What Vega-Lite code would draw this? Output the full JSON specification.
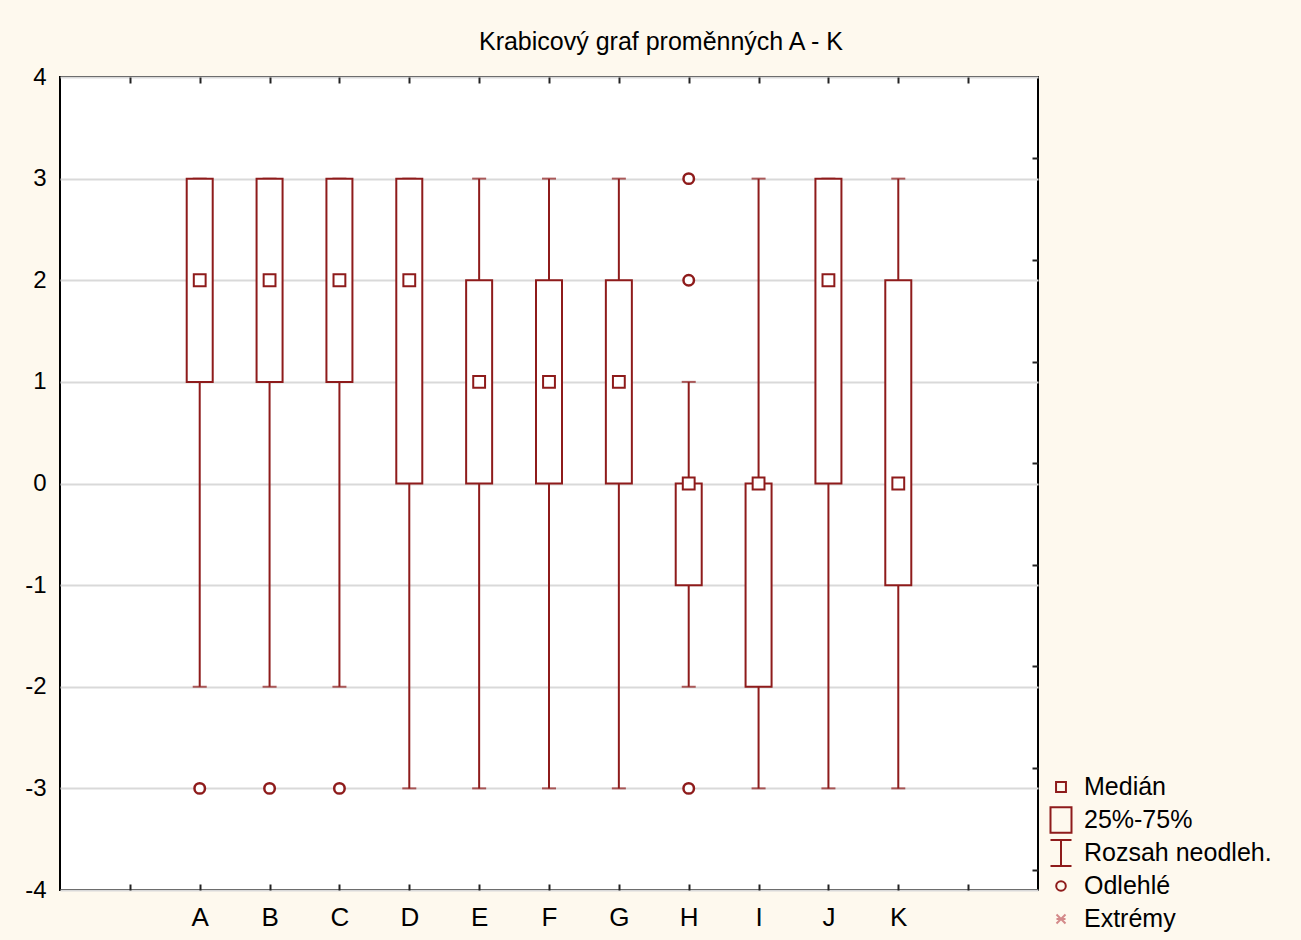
{
  "$schema": "https://vega.github.io/schema/vega-lite/v6.json",
  "width": 978,
  "height": 813,
  "autosize": {"type": "none"},
  "padding": {"left": 60, "top": 77, "right": 263, "bottom": 50},
  "background": "#fef9ee",
  "title": {
    "text": "Krabicový graf proměnných A - K",
    "font": "Liberation Sans",
    "fontSize": 25,
    "fontWeight": "normal",
    "color": "#000000",
    "anchor": "middle",
    "dx": 112,
    "baseline": "alphabetic",
    "offset": -10
  },
  "config": {
    "view": {"stroke": "#000000", "strokeWidth": 2, "fill": "#ffffff"},
    "axis": {
      "labelFont": "Liberation Sans",
      "labelFontSize": 24,
      "labelColor": "#000000",
      "domain": false,
      "title": null
    },
    "legend": {
      "labelFont": "Liberation Sans",
      "labelFontSize": 25,
      "labelColor": "#000000",
      "labelLimit": 0
    }
  },
  "datasets": {
    "boxes": [
      {"var": "A", "pos": 2, "low": -2, "q1": 1, "med": 2, "q3": 3, "high": 3},
      {"var": "B", "pos": 3, "low": -2, "q1": 1, "med": 2, "q3": 3, "high": 3},
      {"var": "C", "pos": 4, "low": -2, "q1": 1, "med": 2, "q3": 3, "high": 3},
      {"var": "D", "pos": 5, "low": -3, "q1": 0, "med": 2, "q3": 3, "high": 3},
      {"var": "E", "pos": 6, "low": -3, "q1": 0, "med": 1, "q3": 2, "high": 3},
      {"var": "F", "pos": 7, "low": -3, "q1": 0, "med": 1, "q3": 2, "high": 3},
      {"var": "G", "pos": 8, "low": -3, "q1": 0, "med": 1, "q3": 2, "high": 3},
      {"var": "H", "pos": 9, "low": -2, "q1": -1, "med": 0, "q3": 0, "high": 1},
      {"var": "I", "pos": 10, "low": -3, "q1": -2, "med": 0, "q3": 0, "high": 3},
      {"var": "J", "pos": 11, "low": -3, "q1": 0, "med": 2, "q3": 3, "high": 3},
      {"var": "K", "pos": 12, "low": -3, "q1": -1, "med": 0, "q3": 2, "high": 3}
    ],
    "outliers": [
      {"var": "A", "pos": 2, "value": -3},
      {"var": "B", "pos": 3, "value": -3},
      {"var": "C", "pos": 4, "value": -3},
      {"var": "H", "pos": 9, "value": 3},
      {"var": "H", "pos": 9, "value": 2},
      {"var": "H", "pos": 9, "value": -3}
    ],
    "legend": [
      {"item": "Medián", "pos": 1, "value": 10},
      {"item": "25%-75%", "pos": 1, "value": 10},
      {"item": "Rozsah neodleh.", "pos": 1, "value": 10},
      {"item": "Odlehlé", "pos": 1, "value": 10},
      {"item": "Extrémy", "pos": 1, "value": 10}
    ]
  },
  "resolve": {"axis": {"x": "independent", "y": "independent"}},
  "layer": [
    {
      "data": {"name": "boxes"},
      "mark": {"type": "rule", "color": "#8e1b1b", "strokeWidth": 2},
      "encoding": {
        "x": {
          "field": "pos", "type": "quantitative",
          "scale": {"domain": [0, 14], "nice": false, "zero": false, "padding": 0},
          "axis": {
            "orient": "bottom",
            "values": [1, 2, 3, 4, 5, 6, 7, 8, 9, 10, 11, 12, 13],
            "labelExpr": "['', '', 'A', 'B', 'C', 'D', 'E', 'F', 'G', 'H', 'I', 'J', 'K', '', ''][datum.value]",
            "labelFontSize": 26,
            "grid": false,
            "ticks": true,
            "tickSize": -6,
            "tickWidth": 2,
            "tickColor": "#222222",
            "labelPadding": 20
          }
        },
        "y": {
          "field": "low", "type": "quantitative",
          "scale": {"domain": [-4, 4], "nice": false, "zero": false, "padding": 0},
          "axis": {
            "orient": "left",
            "values": [-4, -3, -2, -1, 0, 1, 2, 3, 4],
            "labelExpr": "'' + datum.value",
            "grid": true,
            "gridColor": "#d9d9d9",
            "gridWidth": 2,
            "ticks": false,
            "labelPadding": 14
          }
        },
        "y2": {"field": "high"}
      }
    },
    {
      "data": {"name": "boxes"},
      "mark": {"type": "tick", "orient": "horizontal", "color": "#8e1b1b", "size": 14, "thickness": 2},
      "encoding": {
        "x": {"field": "pos", "type": "quantitative", "axis": null},
        "y": {"field": "low", "type": "quantitative", "axis": null}
      }
    },
    {
      "data": {"name": "boxes"},
      "mark": {"type": "tick", "orient": "horizontal", "color": "#8e1b1b", "size": 14, "thickness": 2},
      "encoding": {
        "x": {"field": "pos", "type": "quantitative", "axis": null},
        "y": {"field": "high", "type": "quantitative", "axis": null}
      }
    },
    {
      "data": {"name": "boxes"},
      "mark": {"type": "bar", "size": 26, "fill": "#ffffff", "stroke": "#8e1b1b", "strokeWidth": 2},
      "encoding": {
        "x": {"field": "pos", "type": "quantitative", "axis": null},
        "y": {"field": "q1", "type": "quantitative", "axis": null},
        "y2": {"field": "q3"}
      }
    },
    {
      "data": {"name": "boxes"},
      "mark": {"type": "point", "shape": "square", "size": 140, "filled": true, "fill": "#ffffff", "stroke": "#8e1b1b", "strokeWidth": 2, "opacity": 1},
      "encoding": {
        "x": {"field": "pos", "type": "quantitative", "axis": null},
        "y": {"field": "med", "type": "quantitative", "axis": null}
      }
    },
    {
      "data": {"name": "outliers"},
      "mark": {"type": "point", "shape": "circle", "size": 110, "filled": true, "fill": "#ffffff", "stroke": "#8e1b1b", "strokeWidth": 2.5, "opacity": 1},
      "encoding": {
        "x": {"field": "pos", "type": "quantitative", "axis": null},
        "y": {"field": "value", "type": "quantitative", "axis": null}
      }
    },
    {
      "data": {"name": "legend"},
      "mark": {"type": "point", "filled": false, "clip": true, "strokeWidth": 2, "opacity": 1},
      "encoding": {
        "x": {
          "field": "pos", "type": "quantitative",
          "axis": {
            "orient": "top",
            "values": [1, 2, 3, 4, 5, 6, 7, 8, 9, 10, 11, 12, 13],
            "labels": false,
            "grid": false,
            "tickSize": -6,
            "tickWidth": 2,
            "tickColor": "#222222"
          }
        },
        "y": {
          "field": "value", "type": "quantitative",
          "axis": {
            "orient": "right",
            "values": [3.2, 2.2, 1.2, 0.2, -0.8, -1.8, -2.8, -3.8],
            "labels": false,
            "grid": false,
            "tickSize": -6,
            "tickWidth": 2,
            "tickColor": "#222222"
          }
        },
        "shape": {
          "field": "item", "type": "nominal",
          "scale": {
            "domain": ["Medián", "25%-75%", "Rozsah neodleh.", "Odlehlé", "Extrémy"],
            "range": [
              "M-0.33,-0.33H0.33V0.33H-0.33Z",
              "M-0.7,-0.85H0.7V0.85H-0.7Z",
              "M-0.7,-0.87H0.7M0,-0.87V0.87M-0.7,0.87H0.7",
              "M-0.32,0A0.32,0.32 0 1,0 0.32,0A0.32,0.32 0 1,0 -0.32,0Z",
              "M-0.3,-0.3L0.3,0.3M0.3,-0.3L-0.3,0.3M-0.3,0H0.3"
            ]
          },
          "legend": {
            "title": null,
            "orient": "none",
            "legendX": 985,
            "legendY": 695,
            "padding": 0,
            "symbolSize": 900,
            "symbolStrokeWidth": 2,
            "clipHeight": 30,
            "rowPadding": 3,
            "labelOffset": 7
          }
        },
        "stroke": {
          "field": "item", "type": "nominal",
          "scale": {
            "domain": ["Medián", "25%-75%", "Rozsah neodleh.", "Odlehlé", "Extrémy"],
            "range": ["#8e1b1b", "#8e1b1b", "#8e1b1b", "#8e1b1b", "#d48a8a"]
          },
          "legend": {
            "title": null,
            "orient": "none",
            "legendX": 985,
            "legendY": 695,
            "padding": 0,
            "symbolSize": 900,
            "symbolStrokeWidth": 2,
            "clipHeight": 30,
            "rowPadding": 3,
            "labelOffset": 7
          }
        }
      }
    }
  ]
}
